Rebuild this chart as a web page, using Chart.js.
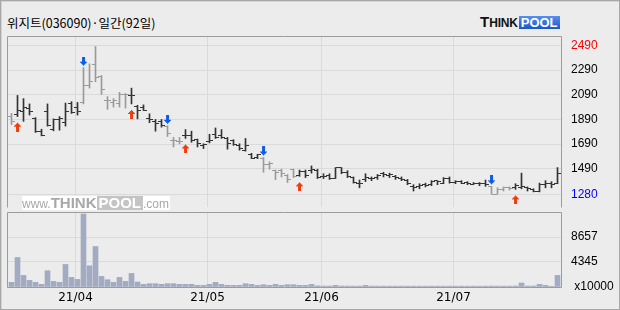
<!DOCTYPE html>
<html>
<head>
<meta charset="utf-8">
<script src="https://cdn.jsdelivr.net/npm/chart.js@4.4.0/dist/chart.umd.min.js"></script>
<style>
html, body { margin: 0; padding: 0; }
body { width: 620px; height: 310px; position: relative; overflow: hidden; background: #ececec; }
#border { position: absolute; left: 0; top: 0; width: 618px; height: 308px; border: 1px solid #a8a8a8; box-shadow: inset 1px 1px 0 #d4d4d4; }
#title { position: absolute; left: 7px; top: 16px; font: 12.5px/13px "Noto Sans CJK KR", sans-serif; color: #000; white-space: nowrap; }
#logo { position: absolute; left: 480px; top: 15px; height: 13px; font-family: "Liberation Sans", Arial, sans-serif; font-weight: bold; white-space: nowrap; line-height: 13px; }
#logo .t { font-size: 15px; color: #111; }
#logo .hink { font-size: 12px; color: #111; letter-spacing: -0.2px; }
#logo .pool { display: inline-block; margin-left: 1px; padding: 0 2px; font-size: 13px; color: #fff; background: linear-gradient(#5a90f0, #1d55c8); height: 13px; }
#mark { position: absolute; left: 22px; top: 196px; height: 14px; background: #fff; font-family: "Liberation Sans", Arial, sans-serif; color: #a8a8a8; white-space: nowrap; line-height: 14px; padding-right: 1px; }
#mark .www { font-size: 12px; }
#mark .think { font-size: 15px; font-weight: bold; }
#mark .pool { display: inline-block; padding: 0 2px; font-size: 15px; font-weight: bold; color: #fff; background: #c4c4c4; height: 14px; }
#mark .com { font-size: 12px; }
#price { position: absolute; left: 0; top: 31px; }
#vol { position: absolute; left: 0; top: 212px; }
</style>
</head>
<body>
<div id="border"></div>
<div id="title">위지트(036090)·일간(92일)</div>
<div id="logo"><span class="t">T</span><span class="hink">HINK</span><span class="pool">POOL</span></div>
<canvas id="price" width="620" height="181"></canvas>
<canvas id="vol" width="620" height="98"></canvas>
<div id="mark"><span class="www">www.</span><span class="think">THINK</span><span class="pool">POOL</span><span class="com">.com</span></div>
<script>
// 92 trading days, 2021-03-17 .. 2021-07-26
const monthIdx = [11, 33, 52, 74];
const monthLabels = ['21/04', '21/05', '21/06', '21/07'];

const opens = [1913, 1931, 1952, 1982, 1895, 1790, 1957, 1811, 1887, 1862,
  2023, 1990, 2028, 2169, 2336, 2239, 2041, 2028, 2016, 2093,
  2085, 1998, 1985, 1898, 1872, 1872, 1834, 1721, 1711, 1762,
  1762, 1726, 1680, 1711, 1770, 1757, 1736, 1718, 1680, 1641,
  1608, 1582, 1577, 1521, 1475, 1475, 1437, 1487, 1437, 1470,
  1480, 1480, 1424, 1437, 1411, 1500, 1462, 1419, 1374, 1404,
  1411, 1419, 1450, 1437, 1429, 1411, 1399, 1348, 1343, 1361,
  1361, 1394, 1374, 1411, 1379, 1386, 1379, 1361, 1369, 1369,
  1343, 1285, 1323, 1336, 1336, 1336, 1336, 1323, 1310, 1361,
  1369, 1369];
const highs = [1939, 2085, 2059, 2016, 1905, 1811, 2016, 1895, 1913, 2023,
  2034, 2028, 2310, 2341, 2482, 2246, 2075, 2059, 2110, 2100,
  2144, 2005, 2008, 1936, 1890, 1890, 1839, 1744, 1744, 1808,
  1795, 1731, 1693, 1770, 1821, 1808, 1744, 1726, 1693, 1736,
  1616, 1608, 1582, 1546, 1480, 1487, 1444, 1487, 1480, 1480,
  1513, 1487, 1450, 1450, 1500, 1500, 1475, 1424, 1399, 1450,
  1424, 1444, 1462, 1455, 1437, 1424, 1404, 1361, 1369, 1374,
  1394, 1394, 1419, 1424, 1394, 1394, 1386, 1379, 1379, 1399,
  1348, 1336, 1343, 1343, 1369, 1455, 1343, 1328, 1374, 1394,
  1386, 1500];
const lows = [1849, 1913, 1875, 1926, 1785, 1757, 1836, 1798, 1803, 1836,
  1939, 1926, 2016, 2144, 2195, 2093, 1972, 1990, 1990, 1982,
  2016, 1895, 1962, 1864, 1795, 1828, 1752, 1667, 1693, 1736,
  1705, 1667, 1654, 1700, 1736, 1736, 1649, 1680, 1641, 1633,
  1572, 1572, 1462, 1487, 1403, 1424, 1379, 1419, 1429, 1419,
  1455, 1411, 1411, 1404, 1411, 1450, 1419, 1374, 1336, 1386,
  1394, 1404, 1424, 1419, 1404, 1394, 1361, 1310, 1328, 1343,
  1353, 1361, 1369, 1374, 1369, 1369, 1361, 1361, 1353, 1348,
  1285, 1285, 1310, 1318, 1323, 1328, 1310, 1303, 1303, 1336,
  1336, 1369];
const closes = [1870, 1964, 1990, 1952, 1790, 1759, 1844, 1887, 1895, 1957,
  1946, 1957, 2169, 2195, 2234, 2131, 2041, 2041, 2093, 2093,
  2085, 1964, 1965, 1890, 1859, 1839, 1777, 1721, 1711, 1757,
  1718, 1693, 1685, 1718, 1744, 1744, 1693, 1685, 1654, 1680,
  1577, 1603, 1526, 1531, 1462, 1450, 1404, 1429, 1470, 1437,
  1487, 1419, 1429, 1411, 1500, 1462, 1424, 1379, 1374, 1419,
  1411, 1437, 1444, 1444, 1419, 1404, 1369, 1336, 1353, 1353,
  1386, 1386, 1411, 1379, 1386, 1374, 1374, 1369, 1369, 1361,
  1285, 1323, 1336, 1328, 1353, 1348, 1328, 1310, 1361, 1374,
  1361, 1455];
// volume, x10000 shares
const volumes = [805, 5118, 2012, 1150, 805, 460, 2817, 977, 805, 3910,
  1667, 1322, 12650, 3680, 7015, 1840, 1265, 805, 1667, 977,
  2357, 862, 460, 575, 575, 460, 575, 575, 460, 460,
  460, 287, 287, 460, 805, 460, 287, 287, 287, 575,
  460, 287, 402, 287, 460, 287, 402, 402, 287, 287,
  460, 200, 170, 170, 290, 170, 170, 150, 150, 290,
  160, 150, 150, 140, 150, 160, 150, 140, 150, 140,
  150, 140, 150, 150, 140, 150, 140, 150, 140, 150,
  170, 160, 150, 150, 170, 690, 170, 170, 460, 290,
  120, 2010];
const buyDays = [1, 20, 29, 48, 84];
const sellDays = [12, 26, 42, 80];
const priceTicks = [2490, 2290, 2090, 1890, 1690, 1490, 1280];
const volTicks = [0, 4345, 8657];

const DARK = '#333333';
const GRAY = '#9a9a9a';
const GRID = '#dadada';
const FRAME = '#9c9c9c';

// bar colour follows the last signal: buy -> dark, sell -> gray
const colors = [];
let holding = false;
for (let i = 0; i < opens.length; i++) {
  if (buyDays.includes(i)) holding = true;
  if (sellDays.includes(i)) holding = false;
  colors.push(holding ? DARK : GRAY);
}

function tickImg(color, left) {
  const c = document.createElement('canvas');
  c.width = 7; c.height = 1;
  const g = c.getContext('2d');
  g.fillStyle = color;
  g.fillRect(left ? 0 : 4, 0, 3, 1);
  return c;
}
function arrowImg(color, up, gap) {
  const h = 9;
  const c = document.createElement('canvas');
  c.width = 7; c.height = 2 * (gap + h);
  const g = c.getContext('2d');
  g.fillStyle = color;
  const y0 = up ? 2 * gap + h : 0;
  for (let r = 0; r < h; r++) {
    const d = up ? r : h - 1 - r;
    const w = d < 4 ? 1 + 2 * d : 3;
    g.fillRect((7 - w) / 2, y0 + r, w, 1);
  }
  return c;
}
const openStyle = { [DARK]: tickImg(DARK, true), [GRAY]: tickImg(GRAY, true) };
const closeStyle = { [DARK]: tickImg(DARK, false), [GRAY]: tickImg(GRAY, false) };
const upArrow = arrowImg('#f03c0c', true, 6);
const downArrow = arrowImg('#0c5ce6', false, 2);

const frame = {
  id: 'frame',
  afterDraw(chart, args, opts) {
    const { ctx, chartArea: a } = chart;
    ctx.save();
    ctx.strokeStyle = FRAME;
    ctx.lineWidth = 1;
    ctx.beginPath();
    ctx.moveTo(a.left + 0.5, a.bottom + 0.5);
    ctx.lineTo(a.left + 0.5, a.top + 0.5);
    ctx.lineTo(a.right + 0.5, a.top + 0.5);
    ctx.lineTo(a.right + 0.5, a.bottom + 0.5);
    if (opts.bottom) ctx.lineTo(a.left + 0.5, a.bottom + 0.5);
    ctx.stroke();
    ctx.restore();
  }
};

const xMin = -0.75, xMax = 91.5833;
function monthTicks(scale) {
  scale.ticks = monthIdx.map(i => ({ value: i - 1 / 3 }));
}

new Chart(document.getElementById('price'), {
  data: {
    datasets: [
      {
        type: 'bar',
        data: highs.map((h, i) => ({ x: i, y: [lows[i], h] })),
        backgroundColor: colors,
        barThickness: 1,
        borderWidth: 0,
        grouped: false
      },
      {
        type: 'scatter',
        data: opens.map((v, i) => ({ x: i, y: v })),
        pointStyle: colors.map(c => openStyle[c]),
        pointRadius: 3
      },
      {
        type: 'scatter',
        data: closes.map((v, i) => ({ x: i, y: v })),
        pointStyle: colors.map(c => closeStyle[c]),
        pointRadius: 3
      },
      {
        type: 'scatter',
        data: buyDays.map(d => ({ x: d, y: lows[d] })),
        pointStyle: upArrow,
        pointRadius: 3
      },
      {
        type: 'scatter',
        data: sellDays.map(d => ({ x: d, y: highs[d] })),
        pointStyle: downArrow,
        pointRadius: 3
      }
    ]
  },
  options: {
    responsive: false,
    animation: false,
    layout: { padding: { left: 7, right: 0, top: 0, bottom: 0 } },
    plugins: { legend: { display: false }, tooltip: { enabled: false }, frame: { bottom: false } },
    scales: {
      x: {
        type: 'linear', min: xMin, max: xMax, offset: false,
        grid: { color: GRID, drawTicks: false, offset: false },
        border: { display: false },
        ticks: { display: false },
        afterBuildTicks: monthTicks,
        afterFit: s => { s.height = 0; s.paddingLeft = 0; s.paddingRight = 0; }
      },
      y: {
        type: 'linear', position: 'right', min: 1180.4, max: 2566.6,
        grid: { color: GRID, drawTicks: false },
        border: { display: false },
        afterBuildTicks: s => { s.ticks = priceTicks.map(v => ({ value: v })); },
        afterFit: s => { s.width = 59; s.paddingTop = 0; s.paddingBottom = 0; },
        ticks: {
          padding: 10,
          font: { family: "'Liberation Sans', sans-serif", size: 12 },
          color: c => c.tick.value === priceTicks[0] ? '#ff0000'
            : c.tick.value === priceTicks[priceTicks.length - 1] ? '#0000ff' : '#000000',
          callback: v => String(v)
        }
      }
    }
  },
  plugins: [frame]
});

new Chart(document.getElementById('vol'), {
  type: 'bar',
  data: {
    datasets: [{
      data: volumes.map((v, i) => ({ x: i, y: v })),
      backgroundColor: '#a3abc3',
      barThickness: 5,
      borderWidth: 0
    }]
  },
  options: {
    responsive: false,
    animation: false,
    layout: { padding: { left: 7, right: 0, top: 0, bottom: 0 } },
    plugins: { legend: { display: false }, tooltip: { enabled: false }, frame: { bottom: true } },
    scales: {
      x: {
        type: 'linear', min: xMin, max: xMax, offset: false,
        grid: { color: GRID, drawTicks: false, offset: false },
        border: { display: false },
        afterBuildTicks: monthTicks,
        afterFit: s => { s.height = 23; s.paddingLeft = 0; s.paddingRight = 0; },
        ticks: {
          padding: 4,
          maxRotation: 0,
          autoSkip: false,
          font: { family: "'DejaVu Sans', sans-serif", size: 12 },
          color: '#000000',
          callback: (v, i) => monthLabels[i]
        }
      },
      y: {
        type: 'linear', position: 'right', min: 0, max: 13000,
        grid: { color: GRID, drawTicks: false },
        border: { display: false },
        afterBuildTicks: s => { s.ticks = volTicks.map(v => ({ value: v })); },
        afterFit: s => { s.width = 59; s.paddingTop = 0; s.paddingBottom = 0; },
        ticks: {
          padding: 10,
          font: { family: "'Liberation Sans', sans-serif", size: 12 },
          color: '#000000',
          callback: v => v === 0 ? ' x10000' : String(v)
        }
      }
    }
  },
  plugins: [frame]
});
</script>
</body>
</html>
